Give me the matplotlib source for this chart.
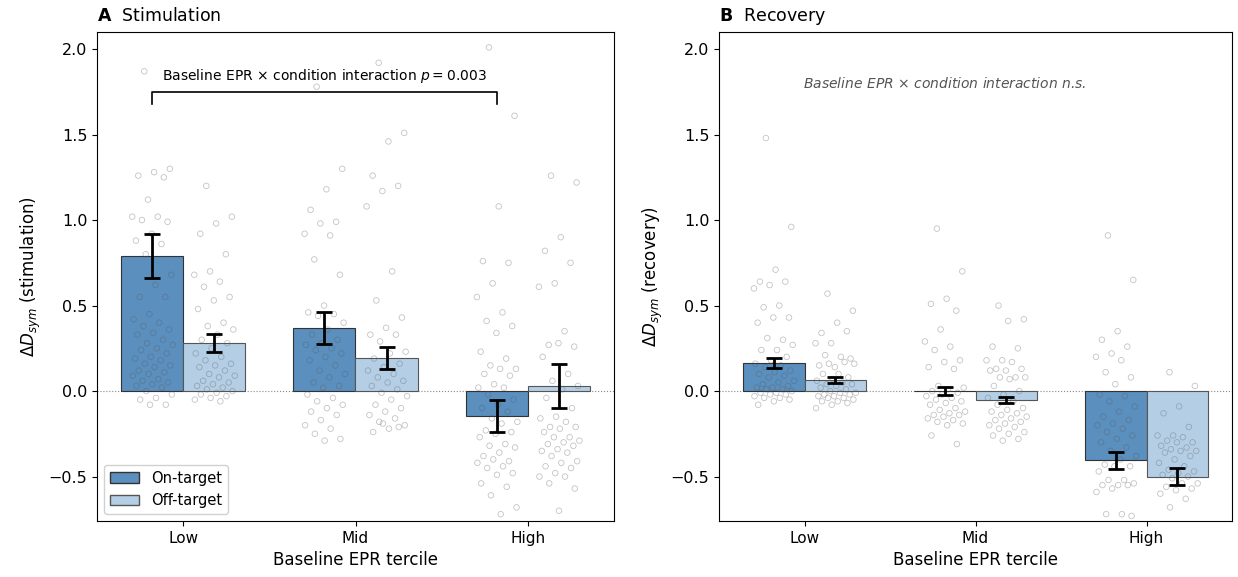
import numpy as np
import matplotlib
matplotlib.use("Agg")
import matplotlib.pyplot as plt
from matplotlib.patches import Patch

# ---- data ----
terciles = ["Low", "Mid", "High"]
conditions = ["On-target", "Off-target"]

stim_mean_on = [0.79, 0.37, -0.145]
stim_mean_off = [0.28, 0.195, 0.03]
stim_err_on = [0.13, 0.095, 0.095]
stim_err_off = [0.053, 0.065, 0.13]

rec_mean_on = [0.165, 0.0, -0.405]
rec_mean_off = [0.065, -0.05, -0.50]
rec_err_on = [0.03, 0.025, 0.05]
rec_err_off = [0.015, 0.018, 0.05]

stim_low_on = [1.87, 1.30, 1.28, 1.26, 1.25, 1.12, 1.02, 1.02, 1.00, 0.99, 0.92, 0.88,
               0.86, 0.80, 0.68, 0.62, 0.55, 0.55, 0.45, 0.42, 0.40, 0.38, 0.36, 0.34,
               0.33, 0.30, 0.28, 0.27, 0.25, 0.24, 0.22, 0.20, 0.19, 0.18, 0.16, 0.15,
               0.14, 0.12, 0.11, 0.10, 0.09, 0.07, 0.06, 0.05, 0.04, 0.03, 0.02, 0.00,
               -0.02, -0.04, -0.05, -0.08, -0.08]
stim_low_off = [1.20, 1.02, 0.98, 0.92, 0.80, 0.70, 0.68, 0.64, 0.61, 0.55, 0.53, 0.48,
                0.40, 0.38, 0.36, 0.33, 0.30, 0.28, 0.25, 0.22, 0.20, 0.18, 0.16, 0.15,
                0.14, 0.12, 0.10, 0.09, 0.08, 0.06, 0.05, 0.04, 0.03, 0.02, 0.01, 0.00,
                -0.01, -0.02, -0.03, -0.04, -0.05, -0.06]
stim_mid_on = [1.78, 1.30, 1.18, 1.06, 0.99, 0.98, 0.92, 0.91, 0.77, 0.68, 0.50, 0.46,
               0.45, 0.44, 0.40, 0.36, 0.33, 0.30, 0.28, 0.27, 0.25, 0.24, 0.22, 0.20,
               0.18, 0.15, 0.12, 0.10, 0.08, 0.05, 0.03, 0.02, -0.02, -0.04, -0.06,
               -0.08, -0.10, -0.12, -0.14, -0.17, -0.20, -0.22, -0.25, -0.28, -0.29]
stim_mid_off = [1.92, 1.51, 1.46, 1.26, 1.20, 1.17, 1.08, 0.70, 0.53, 0.43, 0.37, 0.33,
                0.33, 0.29, 0.23, 0.22, 0.19, 0.16, 0.14, 0.12, 0.10, 0.08, 0.06, 0.05,
                0.03, 0.01, -0.01, -0.03, -0.05, -0.08, -0.10, -0.12, -0.14, -0.16,
                -0.18, -0.20, -0.22, -0.24, -0.21, -0.19]
stim_high_on = [2.01, 1.61, 1.08, 0.76, 0.75, 0.63, 0.55, 0.46, 0.41, 0.38, 0.34, 0.23,
                0.19, 0.15, 0.13, 0.13, 0.10, 0.09, 0.04, 0.02, 0.02, -0.02, -0.05,
                -0.08, -0.10, -0.12, -0.16, -0.18, -0.19, -0.23, -0.24, -0.25, -0.27,
                -0.31, -0.32, -0.33, -0.36, -0.38, -0.41, -0.40, -0.42, -0.44, -0.45,
                -0.48, -0.49, -0.54, -0.56, -0.61, -0.68, -0.72]
stim_high_off = [1.26, 1.22, 0.90, 0.82, 0.75, 0.63, 0.61, 0.35, 0.27, 0.26, 0.28, 0.20,
                 0.10, 0.06, 0.03, 0.01, -0.04, -0.10, -0.15, -0.16, -0.18, -0.21, -0.21,
                 -0.22, -0.24, -0.27, -0.27, -0.29, -0.30, -0.31, -0.32, -0.34, -0.35,
                 -0.36, -0.38, -0.41, -0.42, -0.44, -0.45, -0.48, -0.50, -0.50, -0.54,
                 -0.57, -0.70]

rec_low_on = [1.48, 0.96, 0.71, 0.64, 0.64, 0.62, 0.60, 0.50, 0.49, 0.43, 0.43, 0.40,
              0.30, 0.31, 0.27, 0.24, 0.24, 0.20, 0.18, 0.16, 0.15, 0.14, 0.12, 0.11,
              0.10, 0.09, 0.08, 0.06, 0.05, 0.04, 0.03, 0.02, 0.02, 0.01, 0.01, 0.00,
              -0.01, -0.01, -0.02, -0.02, -0.03, -0.04, -0.04, -0.05, -0.06, -0.08]
rec_low_off = [0.57, 0.47, 0.40, 0.34, 0.35, 0.28, 0.28, 0.20, 0.21, 0.19, 0.14, 0.15,
               0.17, 0.16, 0.16, 0.10, 0.10, 0.08, 0.07, 0.06, 0.05, 0.04, 0.04, 0.03,
               0.02, 0.01, 0.00, -0.01, -0.01, -0.02, -0.02, -0.03, -0.03, -0.04,
               -0.04, -0.05, -0.06, -0.06, -0.07, -0.08, -0.10]
rec_mid_on = [0.95, 0.70, 0.54, 0.51, 0.47, 0.36, 0.29, 0.26, 0.24, 0.18, 0.17, 0.14,
              0.13, 0.03, 0.02, 0.01, 0.00, -0.01, -0.02, -0.03, -0.04, -0.05, -0.06,
              -0.07, -0.08, -0.10, -0.11, -0.12, -0.13, -0.14, -0.14, -0.15, -0.16,
              -0.17, -0.18, -0.19, -0.20, -0.26, -0.31]
rec_mid_off = [0.50, 0.42, 0.41, 0.26, 0.25, 0.18, 0.18, 0.17, 0.13, 0.13, 0.12, 0.12,
               0.08, 0.08, 0.08, 0.07, 0.03, 0.00, -0.02, -0.04, -0.06, -0.08, -0.10,
               -0.11, -0.12, -0.13, -0.14, -0.15, -0.16, -0.17, -0.18, -0.19, -0.20,
               -0.21, -0.22, -0.24, -0.25, -0.26, -0.28, -0.29]
rec_high_on = [0.91, 0.65, 0.35, 0.30, 0.26, 0.22, 0.20, 0.18, 0.11, 0.08, 0.04, -0.02,
               -0.03, -0.06, -0.09, -0.12, -0.15, -0.17, -0.19, -0.20, -0.22, -0.24,
               -0.26, -0.28, -0.30, -0.33, -0.35, -0.38, -0.40, -0.43, -0.44, -0.44,
               -0.47, -0.52, -0.52, -0.54, -0.55, -0.55, -0.55, -0.57, -0.59, -0.72,
               -0.72, -0.73]
rec_high_off = [0.11, 0.03, -0.09, -0.13, -0.21, -0.26, -0.26, -0.27, -0.29, -0.30,
                -0.30, -0.32, -0.33, -0.34, -0.35, -0.35, -0.36, -0.38, -0.40, -0.42,
                -0.44, -0.46, -0.47, -0.48, -0.49, -0.50, -0.51, -0.54, -0.54, -0.56,
                -0.57, -0.58, -0.60, -0.63, -0.68]

stim_points = [[stim_low_on, stim_low_off], [stim_mid_on, stim_mid_off],
               [stim_high_on, stim_high_off]]
rec_points = [[rec_low_on, rec_low_off], [rec_mid_on, rec_mid_off],
              [rec_high_on, rec_high_off]]

# ---- style ----
COL_ON = "#5b8fbe"
COL_OFF = "#b4cfe5"
BAR_W = 0.36
plt.rcParams["font.family"] = "DejaVu Sans"


def jitter(n, spread=0.12):
    # deterministic, evenly spread offsets (golden-ratio sequence)
    k = np.arange(n)
    return ((k * 0.6180339887 + 0.31) % 1.0 - 0.5) * 2 * spread


def draw_panel(ax, means_on, means_off, errs_on, errs_off, points):
    x = np.arange(len(terciles))
    ax.axhline(0, color="#888888", lw=0.8, ls=":", zorder=1)
    ax.bar(x - BAR_W / 2, means_on, BAR_W, color=COL_ON, edgecolor="#333333",
           lw=0.8, zorder=2, label=conditions[0])
    ax.bar(x + BAR_W / 2, means_off, BAR_W, color=COL_OFF, edgecolor="#555555",
           lw=0.8, zorder=2, label=conditions[1])
    for i, pair in enumerate(points):
        for j, vals in enumerate(pair):
            cx = x[i] + (j - 0.5) * BAR_W
            ax.scatter(cx + jitter(len(vals)), vals, s=16, facecolors="none",
                       edgecolors="#555555", linewidths=0.6, alpha=0.35, zorder=3)
    ax.errorbar(x - BAR_W / 2, means_on, yerr=errs_on, fmt="none", ecolor="black",
                elinewidth=2, capsize=6, capthick=2, zorder=4)
    ax.errorbar(x + BAR_W / 2, means_off, yerr=errs_off, fmt="none", ecolor="black",
                elinewidth=2, capsize=6, capthick=2, zorder=4)
    ax.set_xticks(x)
    ax.set_xticklabels(terciles, fontsize=11)
    ax.set_xlim(-0.5, 2.5)
    ax.set_ylim(-0.76, 2.1)
    ax.set_yticks([-0.5, 0.0, 0.5, 1.0, 1.5, 2.0])
    ax.tick_params(axis="y", labelsize=11.5)
    ax.set_xlabel("Baseline EPR tercile", fontsize=12)


fig = plt.figure(figsize=(12.38, 5.77), dpi=100)
ax_a = fig.add_axes([97 / 1238, 56 / 577, 517 / 1238, 489 / 577])
ax_b = fig.add_axes([719 / 1238, 56 / 577, 513 / 1238, 489 / 577])

draw_panel(ax_a, stim_mean_on, stim_mean_off, stim_err_on, stim_err_off, stim_points)
draw_panel(ax_b, rec_mean_on, rec_mean_off, rec_err_on, rec_err_off, rec_points)

ax_a.set_ylabel(r"$\Delta D_{sym}$ (stimulation)", fontsize=12)
ax_b.set_ylabel(r"$\Delta D_{sym}$ (recovery)", fontsize=12)

ax_a.set_title(r"$\bf{A}$  Stimulation", loc="left", fontsize=12.5, pad=8)
ax_b.set_title(r"$\bf{B}$  Recovery", loc="left", fontsize=12.5, pad=8)

# significance bracket in panel A
x0, x1 = 0 - BAR_W / 2, 2 - BAR_W / 2
ax_a.plot([x0, x0, x1, x1], [1.68, 1.75, 1.75, 1.68], color="black", lw=1.2, zorder=5)
ax_a.text((x0 + x1) / 2, 1.79, r"Baseline EPR $\times$ condition interaction $p = 0.003$",
          ha="center", va="bottom", fontsize=10)

ax_b.text(0.82, 1.80, r"Baseline EPR $\times$ condition interaction n.s.",
          ha="center", va="center", fontsize=10, style="italic", color="#555555")

ax_a.legend(handles=[Patch(facecolor=COL_ON, edgecolor="#333333", label="On-target"),
                     Patch(facecolor=COL_OFF, edgecolor="#555555", label="Off-target")],
            loc="lower left", fontsize=10.5, framealpha=0.9)

fig.savefig("out.png", dpi=100)
